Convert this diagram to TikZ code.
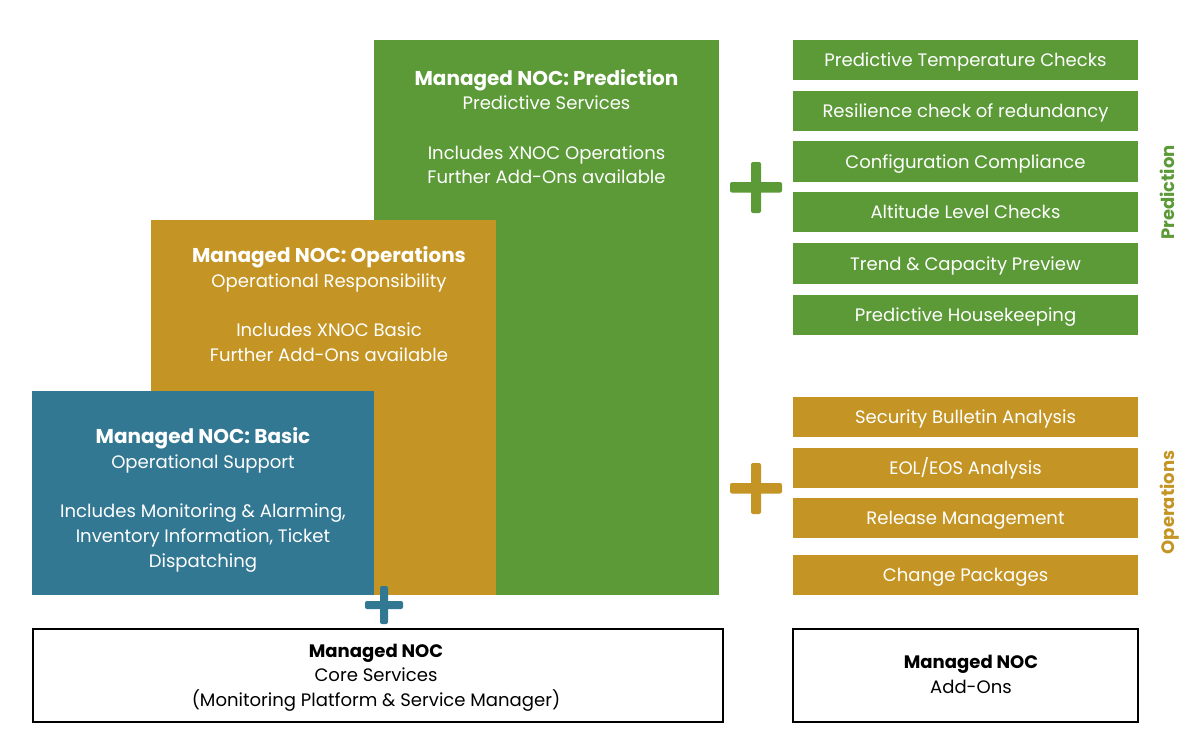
\documentclass[tikz,border=0pt]{standalone}
\usepackage{fontspec}
\setmainfont{Poppins}
\definecolor{cgreen}{HTML}{5B9A37}
\definecolor{cgold}{HTML}{C49524}
\definecolor{cteal}{HTML}{337893}
\begin{document}
\begin{tikzpicture}[x=1pt,y=-1pt,
  txt/.style={align=center,inner sep=0pt,font=\fontsize{18.05}{24.7}\selectfont},
  lbl/.style={txt,text=white},
  item/.style={lbl,minimum width=345pt,anchor=center,text height=14pt,text depth=5pt},
  vert/.style={rotate=90,inner sep=0pt,text height=14pt,text depth=5pt,font=\fontsize{18}{20}\selectfont\bfseries},
  plusbar/.style={rounded corners=2pt},
  corebox/.style={draw=black,line width=2pt,fill=white}]
\useasboundingbox (0,0) rectangle (1200,750);
\fill[white] (0,0) rectangle (1200,750);
% stepped blocks
\fill[cgreen] (374,40) rectangle (719,595);
\fill[cgold] (151,220) rectangle (496,595);
\fill[cteal] (32,391) rectangle (373.5,595);
\node[lbl] (pred) at (546.5,126.5) {{\fontsize{20}{24.7}\selectfont\textbf{Managed NOC: Prediction}}\\Predictive Services\\[24.7pt]Includes XNOC Operations\\Further Add-Ons available};
\node[lbl] (ops) at (329,304) {{\fontsize{20}{24.7}\selectfont\textbf{Managed NOC: Operations}}\\Operational Responsibility\\[24.7pt]Includes XNOC Basic\\Further Add-Ons available};
\node[lbl] (basic) at (203,500) {{\fontsize{20}{24.7}\selectfont\textbf{Managed NOC: Basic}}\\Operational Support\\[24.7pt]Includes Monitoring \& Alarming,\\Inventory Information, Ticket\\Dispatching};
% bottom boxes
\node[corebox,minimum width=690pt,minimum height=93pt,inner sep=0pt] (corebx) at (378,675.5) {};
\node[corebox,minimum width=345pt,minimum height=93pt,inner sep=0pt] (addbx) at (965.5,675.5) {};
\node[txt] (coretx) at (376,677.5) {\textbf{Managed NOC}\\Core Services\\(Monitoring Platform \& Service Manager)};
\node[txt] (addtx) at (971,674.5) {\textbf{Managed NOC}\\Add-Ons};
% green items
\foreach \nm/\ya/\yb/\t in {
 pa/40/80/Predictive Temperature Checks,
 pb/91/131/Resilience check of redundancy,
 pc/141/182/Configuration Compliance,
 pd/192/232/Altitude Level Checks,
 pe/243/284/Trend \& Capacity Preview,
 pf/295/335/Predictive Housekeeping}{
 \fill[cgreen] (793,\ya) rectangle (1138,\yb);
 \node[item] (\nm) at (965.5,{(\ya+\yb)/2+2}) {\t};
}
% gold items
\foreach \nm/\ya/\yb/\t in {
 oa/397/437/Security Bulletin Analysis,
 ob/448/488/{EOL/EOS Analysis},
 oc/498/538/Release Management,
 od/555/595/Change Packages}{
 \fill[cgold] (793,\ya) rectangle (1138,\yb);
 \node[item] (\nm) at (965.5,{(\ya+\yb)/2+2}) {\t};
}
% plus signs
\fill[cgreen,plusbar] (730,182) rectangle (782,192.5);
\fill[cgreen,plusbar] (751,162) rectangle (761,213);
\fill[cgold,plusbar] (730,483) rectangle (782,493.5);
\fill[cgold,plusbar] (751,463) rectangle (761,514);
\fill[cteal,plusbar] (365,601) rectangle (403,609);
\fill[cteal,plusbar] (380,586) rectangle (388,624);
% side labels
\node[vert,text=cgreen] (vp) at (1169.5,192.5) {Prediction};
\node[vert,text=cgold] (vo) at (1169.5,502.5) {Operations};
\end{tikzpicture}
\end{document}
